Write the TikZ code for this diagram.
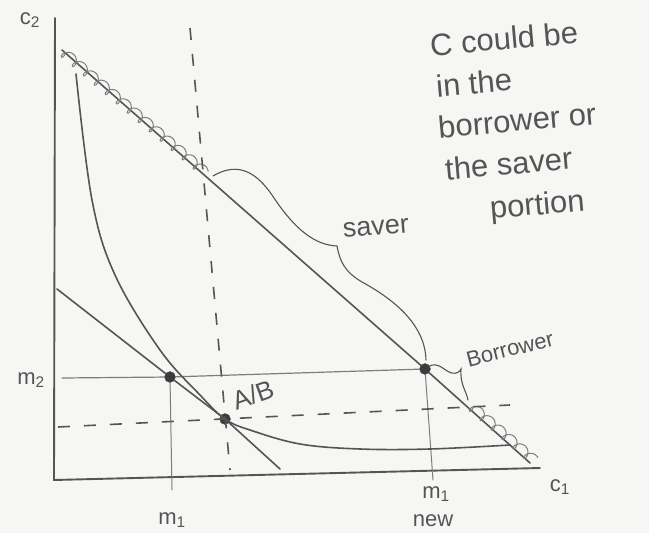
\documentclass[tikz,border=0pt]{standalone}
\usepackage{fontspec}
\setmainfont{Liberation Sans}
\definecolor{paper}{RGB}{246,246,244}
\definecolor{pen}{RGB}{85,85,85}
\definecolor{penlight}{RGB}{125,125,125}
\tikzset{
  pencil/.style={draw=pen, line width=1.6pt, line cap=round},
  thin pencil/.style={draw=penlight, line width=1pt, line cap=round},
  dashline/.style={draw=pen, line width=1.6pt, dash pattern=on 12pt off 14pt},
  wave/.style={draw=penlight, line width=1pt, line join=round},
  dot/.style={circle, fill=pen!70!black, draw=pen, inner sep=0pt, minimum size=11pt},
  hand/.style={text=pen, font=\fontsize{22}{26}\selectfont, inner sep=1pt},
  note/.style={text=pen, font=\fontsize{31}{36}\selectfont, inner sep=0pt, anchor=west, rotate=5}
}
\begin{document}
\begin{tikzpicture}[x=1pt,y=-1pt]
\useasboundingbox[fill=paper] (0,0) rectangle (649,533);

% axes
\coordinate (O) at (54,480);
\coordinate (ytop) at (55,18);
\coordinate (xend) at (540,468);
\draw[pencil, line width=1.9pt] (ytop) -- (O) -- (xend);
\node[hand] (c2) at (30,20) {c\textsubscript{2}};
\node[hand] (c1) at (560,487) {c\textsubscript{1}};

% points
\node[dot] (P1) at (170,377) {};
\node[dot] (AB) at (225,419) {};
\node[dot] (PN) at (425,369) {};

% budget lines
\coordinate (Btop) at (62,50);
\coordinate (Bend) at (530,463);
\draw[pencil] (Btop) -- (PN) -- (Bend);
\coordinate (Otop) at (57,289);
\coordinate (Oend) at (280,469);
\draw[pencil] (Otop) -- (P1) -- (AB) -- (Oend);

% looped wavy shading along the new budget line
\draw[wave] plot[domain=0:186, samples=400, variable=\t]
  ({62+0.763*(\t+4*cos(\t*25))-0.647*5*sin(\t*25)}, {51+0.647*(\t+4*cos(\t*25))+0.763*5*sin(\t*25)});
\draw[wave] plot[domain=0:84, samples=200, variable=\t]
  ({470+0.758*(\t+4*cos(\t*25))-0.653*5*sin(\t*25)}, {405+0.653*(\t+4*cos(\t*25))+0.758*5*sin(\t*25)});

% m2 line and verticals
\coordinate (m2L) at (62,378);
\draw[thin pencil, line width=1.2pt] (m2L) -- (P1) -- (PN);
\coordinate (m1b) at (172,490);
\draw[thin pencil] (P1) -- (m1b);
\coordinate (m1nb) at (433,480);
\draw[thin pencil] (PN) -- (m1nb);

% dashed lines
\coordinate (dvT) at (190,28);
\coordinate (dvB) at (230,470);
\draw[dashline] (dvT) -- (dvB);
\coordinate (dhL) at (58,427);
\coordinate (dhR) at (510,405);
\draw[dashline] (dhL) -- (dhR);

% indifference curve
\draw[pencil] plot[smooth, tension=0.6] coordinates
  {(76,74) (92,200) (115,275) (160,350) (200,395) (AB) (250,430) (300,444) (360,449) (430,449) (510,445)};

% saver brace
\draw[pencil, line width=1.1pt] (213,176) .. controls (240,160) and (258,175) .. (272,195)
  .. controls (295,230) and (315,245) .. (337,246)
  .. controls (340,262) and (345,272) .. (362,282)
  .. controls (395,300) and (425,325) .. (426,360);
\node[hand, font=\fontsize{27}{30}\selectfont, rotate=5] (saver) at (376,228) {saver};

% borrower brace
\draw[pencil, line width=1.1pt] (428,367) .. controls (438,360) and (445,372) .. (452,373)
  .. controls (456,374) and (460,372) .. (461,369)
  .. controls (460,385) and (466,390) .. (468,400);
\node[hand, rotate=14] (borrower) at (510,349) {Borrower};

% labels
\node[hand] (m2) at (31,380) {m\textsubscript{2}};
\node[hand] (m1) at (172,520) {m\textsubscript{1}};
\node[hand] (m1n) at (436,494) {m\textsubscript{1}};
\node[hand] (new) at (433,521) {new};
\node[hand, font=\fontsize{26}{30}\selectfont, rotate=20] (ablab) at (253,395) {A/B};

% note
\node[note] (n1) at (430,45) {C could be};
\node[note] (n2) at (436,86) {in the};
\node[note] (n3) at (438,127) {borrower or};
\node[note] (n4) at (445,169) {the saver};
\node[note] (n5) at (490,211) {portion};
\end{tikzpicture}
\end{document}
